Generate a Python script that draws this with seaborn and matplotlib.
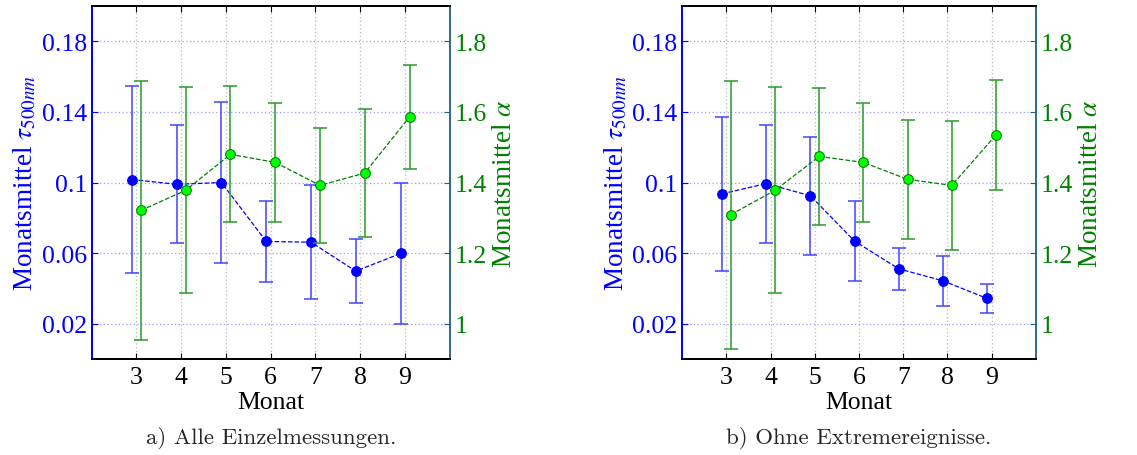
import numpy as np
import matplotlib
matplotlib.use("Agg")
import matplotlib.pyplot as plt
import seaborn as sns

sns.set_style("ticks")
plt.rcParams['font.family'] = ['Liberation Serif', 'DejaVu Serif']
plt.rcParams['mathtext.fontset'] = 'stix'

# months on the x axis
months = [3, 4, 5, 6, 7, 8, 9]

# a) all single measurements
tau_all = [0.1017, 0.0990, 0.1000, 0.0666, 0.0662, 0.0498, 0.0598]
tau_all_err = [0.0532, 0.0334, 0.0458, 0.0228, 0.0324, 0.0181, 0.0399]
alpha_all = [1.321, 1.378, 1.480, 1.457, 1.392, 1.427, 1.586]
alpha_all_err = [0.368, 0.292, 0.193, 0.168, 0.162, 0.182, 0.147]

# b) without extreme events
tau_noext = [0.0936, 0.0994, 0.0925, 0.0668, 0.0511, 0.0443, 0.0343]
tau_noext_err = [0.0438, 0.0334, 0.0335, 0.0228, 0.0119, 0.0140, 0.0084]
alpha_noext = [1.309, 1.378, 1.474, 1.457, 1.409, 1.392, 1.535]
alpha_noext_err = [0.380, 0.292, 0.193, 0.168, 0.169, 0.182, 0.156]

captions = ["a) Alle Einzelmessungen.", "b) Ohne Extremereignisse."]

BLUE = "#0000ff"
GREEN = "#008000"
LIME = "#00ff00"
FS = 18.5

fig = plt.figure(figsize=(11.37, 4.56), dpi=100)
axes_pos = [[0.0806, 0.2105, 0.315, 0.774], [0.6, 0.2105, 0.311, 0.774]]
panels = [(tau_all, tau_all_err, alpha_all, alpha_all_err),
          (tau_noext, tau_noext_err, alpha_noext, alpha_noext_err)]

for pos, (tau, tau_err, alpha, alpha_err), cap in zip(axes_pos, panels, captions):
    ax = fig.add_axes(pos)
    ax2 = ax.twinx()
    x_tau = np.array(months) - 0.1
    x_alpha = np.array(months) + 0.1

    # grid
    for m in months:
        ax.axvline(m, color="#bbbbbb", ls=(0, (1, 2)), lw=0.9, zorder=0)
    for t in [0.02, 0.06, 0.1, 0.14, 0.18]:
        ax.axhline(t, color="#9a9aff", ls=(0, (1, 2)), lw=0.9, zorder=0)

    ax.errorbar(x_tau, tau, yerr=tau_err, fmt="none", ecolor="#4444ff",
                elinewidth=1.1, capsize=5, capthick=1.1, zorder=2)
    sns.lineplot(x=x_tau, y=tau, ax=ax, color=BLUE, linestyle="--", lw=0.9,
                 marker="o", markersize=7, markerfacecolor=BLUE,
                 markeredgecolor=BLUE, zorder=3)

    ax2.errorbar(x_alpha, alpha, yerr=alpha_err, fmt="none", ecolor="#2a9a2a",
                 elinewidth=1.1, capsize=5, capthick=1.1, zorder=2)
    sns.lineplot(x=x_alpha, y=alpha, ax=ax2, color=GREEN, linestyle="--", lw=0.9,
                 marker="o", markersize=7, markerfacecolor=LIME,
                 markeredgecolor=GREEN, zorder=3)

    ax.set_xlim(2, 10)
    ax.set_ylim(0, 0.2)
    ax2.set_ylim(0.9, 1.9)
    ax.set_xticks(months)
    ax.set_xticklabels([str(m) for m in months])
    ax.set_yticks([0.02, 0.06, 0.1, 0.14, 0.18])
    ax.set_yticklabels(["0.02", "0.06", "0.1", "0.14", "0.18"])
    ax2.set_yticks([1, 1.2, 1.4, 1.6, 1.8])
    ax2.set_yticklabels(["1", "1.2", "1.4", "1.6", "1.8"])

    ax.tick_params(axis="x", direction="in", length=4, labelsize=FS, colors="black",
                   top=True, pad=5)
    ax.tick_params(axis="y", direction="in", length=4, labelsize=FS, colors=BLUE)
    ax2.tick_params(axis="y", direction="in", length=4, labelsize=FS, colors=GREEN,
                    color="#1f5f7f")

    for sp in ["top", "bottom"]:
        ax.spines[sp].set_color("black")
        ax2.spines[sp].set_color("black")
    ax.spines["left"].set_color(BLUE)
    ax2.spines["left"].set_color(BLUE)
    ax2.spines["right"].set_color("#1f5f7f")
    ax.spines["right"].set_visible(False)
    for a in (ax, ax2):
        for sp in a.spines.values():
            sp.set_linewidth(1.3)
    ax2.spines["right"].set_visible(True)
    ax2.spines["top"].set_visible(True)

    ax.set_xlabel("Monat", fontsize=FS, color="black", labelpad=2)
    ax.set_ylabel(r"Monatsmittel $\tau_{\mathit{500nm}}$", fontsize=FS + 1,
                  color=BLUE, labelpad=2)
    ax2.set_ylabel(r"Monatsmittel $\alpha$", fontsize=FS + 1, color=GREEN, labelpad=4)

    cx = pos[0] + pos[2] / 2
    fig.text(cx, 1 - 438 / 456, cap, ha="center", va="center", fontsize=16.5,
             family=["cmr10", "DejaVu Serif"])

fig.savefig("out.png", dpi=100)
